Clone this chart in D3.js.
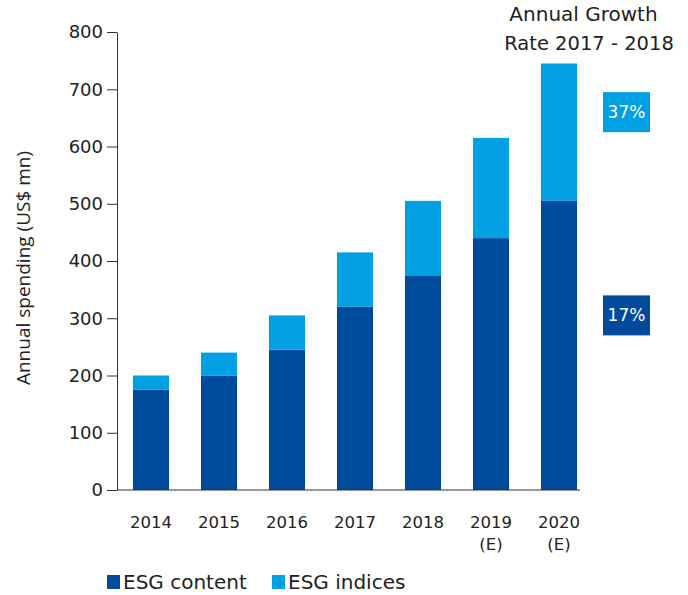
<!DOCTYPE html>
<html>
<head>
<meta charset="utf-8">
<script src="https://cdn.jsdelivr.net/npm/d3@7"></script>
<style>
  body { margin: 0; background: #fff; }
  svg { display: block; font-family: "DejaVu Sans", sans-serif; }
</style>
</head>
<body>
<div id="container"></div>
<script>
const w = 688;
const h = 595;

const years = ['2014', '2015', '2016', '2017', '2018', '2019\n(E)', '2020\n(E)'];
const esgContent = [175, 200, 245, 320, 375, 440, 505];
const esgIndices = [25, 40, 60, 95, 130, 175, 240];
const yTicks = [0, 100, 200, 300, 400, 500, 600, 700, 800];
const growthLabels = ['37%', '17%'];
const growthValues = [660, 305];

const colContent = '#004b9b';
const colIndices = '#00a0e2';

const svg = d3.select('#container')
  .append('svg')
  .attr('width', w)
  .attr('height', h)
  .attr('viewBox', [0, 0, w, h]);

const y = d3.scaleLinear()
  .domain([0, 800])
  .range([490, 32]);

const x = d3.scaleBand()
  .domain(years)
  .range([117, 593])
  .paddingInner(0.47)
  .paddingOuter(0.235);

// stacked bars
const data = years.map((yr, i) => ({year: yr, content: esgContent[i], indices: esgIndices[i]}));
const stack = d3.stack().keys(['content', 'indices'])(data);
const colors = {content: colContent, indices: colIndices};

svg.append('g')
  .selectAll('g')
  .data(stack)
  .join('g')
  .attr('fill', s => colors[s.key])
  .selectAll('rect')
  .data(s => s)
  .join('rect')
  .attr('x', d => x(d.data.year))
  .attr('y', d => y(d[1]))
  .attr('width', x.bandwidth())
  .attr('height', d => y(d[0]) - y(d[1]));

// y axis
const yAxis = d3.axisLeft(y)
  .tickValues(yTicks)
  .tickSize(10)
  .tickPadding(4)
  .tickSizeOuter(0);

svg.append('g')
  .attr('transform', 'translate(117,0)')
  .call(yAxis)
  .call(g => g.selectAll('line').attr('stroke', '#333'))
  .call(g => g.select('.domain').attr('stroke', '#333'))
  .call(g => g.selectAll('text')
    .attr('font-size', 18)
    .attr('fill', '#222')
    .attr('font-family', '"DejaVu Sans", sans-serif'));

// x axis baseline
svg.append('line')
  .attr('x1', 117)
  .attr('x2', x(years[years.length - 1]) + x.bandwidth() + 3)
  .attr('y1', y(0))
  .attr('y2', y(0))
  .attr('stroke', '#333');

// x labels
const xl = svg.append('g')
  .selectAll('text')
  .data(years)
  .join('text')
  .attr('text-anchor', 'middle')
  .attr('font-size', 16.5)
  .attr('fill', '#222')
  .attr('transform', d => 'translate(' + (x(d) + x.bandwidth() / 2) + ',528)');

xl.selectAll('tspan')
  .data(d => d.split('\n'))
  .join('tspan')
  .attr('x', 0)
  .attr('dy', (d, i) => i === 0 ? 0 : 22)
  .text(d => d);

// y title
svg.append('text')
  .attr('transform', 'translate(30,268) rotate(-90)')
  .attr('text-anchor', 'middle')
  .attr('font-size', 19)
  .attr('font-family', '"Open Sans", sans-serif')
  .attr('fill', '#222')
  .text('Annual spending (US$ mn)');

// growth rate header
svg.append('text')
  .attr('x', 583.5)
  .attr('y', 21)
  .attr('text-anchor', 'middle')
  .attr('font-size', 20)
  .attr('fill', '#222')
  .text('Annual Growth');
svg.append('text')
  .attr('x', 589)
  .attr('y', 50)
  .attr('text-anchor', 'middle')
  .attr('font-size', 19.5)
  .attr('fill', '#222')
  .text('Rate 2017 - 2018');

// growth boxes
const boxColors = [colIndices, colContent];
const boxes = svg.append('g')
  .selectAll('g')
  .data(growthLabels)
  .join('g')
  .attr('transform', (d, i) => 'translate(603,' + (y(growthValues[i]) - 20) + ')');

boxes.append('rect')
  .attr('width', 47)
  .attr('height', 40)
  .attr('fill', (d, i) => boxColors[i]);

boxes.append('text')
  .attr('x', 23.5)
  .attr('y', 26)
  .attr('text-anchor', 'middle')
  .attr('font-size', 17)
  .attr('fill', '#fff')
  .text(d => d);

// legend
const legendItems = [
  {label: 'ESG content', color: colContent, x: 107},
  {label: 'ESG indices', color: colIndices, x: 272}
];
const lg = svg.append('g')
  .selectAll('g')
  .data(legendItems)
  .join('g')
  .attr('transform', d => 'translate(' + d.x + ',575)');

lg.append('rect')
  .attr('width', 13)
  .attr('height', 14)
  .attr('fill', d => d.color);

lg.append('text')
  .attr('x', 16)
  .attr('y', 13.5)
  .attr('font-size', 20)
  .attr('fill', '#222')
  .text(d => d.label);
</script>
</body>
</html>
